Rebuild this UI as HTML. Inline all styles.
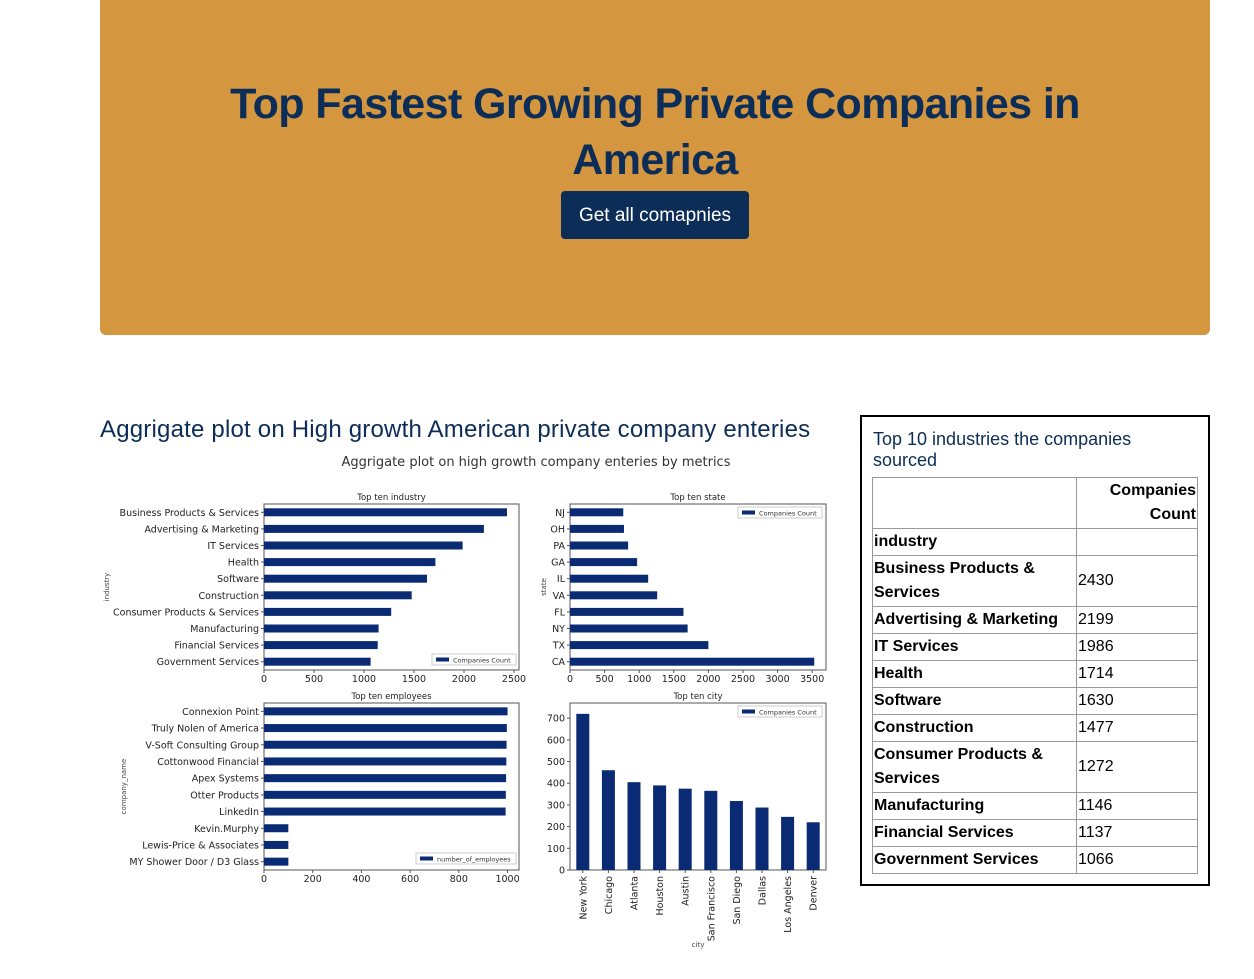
<!DOCTYPE html>
<html><head><meta charset="utf-8"><style>
body{margin:0;width:1254px;height:979px;background:#fff;font-family:"Liberation Sans",sans-serif;position:relative;overflow:hidden}
.banner{position:absolute;left:100px;top:0;width:1110px;height:335px;background:#d4963f;border-radius:0 0 6px 6px}
h1{position:absolute;left:0;width:100%;top:76px;margin:0;text-align:center;color:#0b2d57;font-size:43px;line-height:56px;font-weight:bold;letter-spacing:-0.6px}
.btn{position:absolute;left:461px;top:191px;width:188px;height:48px;background:#0b2d57;color:#fff;border-radius:4px;font-size:19px;line-height:50px;text-align:center}
h2{position:absolute;left:100px;top:416px;margin:0;font-size:24px;font-weight:normal;color:#0b2d57;letter-spacing:0.2px}
.box{position:absolute;left:860px;top:415px;width:346px;height:467px;border:2px solid #000}
.box .cap{position:absolute;left:11px;top:12px;color:#0b2d57;font-size:18px;line-height:21px}
table{position:absolute;left:10px;top:60px;width:326px;border-collapse:collapse;font-size:16px}
td{border:1px solid #999;padding:0 1px;line-height:24px;height:26px}
td.k{font-weight:bold;width:201px}
svg{position:absolute;left:0;top:0}
</style></head><body>
<div class="banner">
<h1>Top Fastest Growing Private Companies in<br>America</h1>
<div class="btn">Get all comapnies</div>
</div>
<h2>Aggrigate plot on High growth American private company enteries</h2>
<div class="box">
<div class="cap">Top 10 industries the companies<br>sourced</div>
<table>
<tr><td class="k" style="height:50px"></td><td style="text-align:right;font-weight:bold;line-height:24px">Companies<br>Count</td></tr>
<tr><td class="k">industry</td><td></td></tr>
<tr><td class="k" style="height:50px">Business Products &amp;<br>Services</td><td>2430</td></tr>
<tr><td class="k">Advertising &amp; Marketing</td><td>2199</td></tr>
<tr><td class="k">IT Services</td><td>1986</td></tr>
<tr><td class="k">Health</td><td>1714</td></tr>
<tr><td class="k">Software</td><td>1630</td></tr>
<tr><td class="k">Construction</td><td>1477</td></tr>
<tr><td class="k" style="height:50px">Consumer Products &amp;<br>Services</td><td>1272</td></tr>
<tr><td class="k">Manufacturing</td><td>1146</td></tr>
<tr><td class="k">Financial Services</td><td>1137</td></tr>
<tr><td class="k">Government Services</td><td>1066</td></tr>
</table></div>
<svg id="chart" width="1254" height="979" font-family="DejaVu Sans, sans-serif"></svg>
<script>
const industries=["Business Products & Services","Advertising & Marketing","IT Services","Health","Software","Construction","Consumer Products & Services","Manufacturing","Financial Services","Government Services"];
const industryCounts=[2430,2199,1986,1714,1630,1477,1272,1146,1137,1066];
const industryTicks=[0,500,1000,1500,2000,2500];
const states=["NJ","OH","PA","GA","IL","VA","FL","NY","TX","CA"];
const stateCounts=[770,780,840,970,1130,1260,1640,1700,2000,3530];
const stateTicks=[0,500,1000,1500,2000,2500,3000,3500];
const companies=["Connexion Point","Truly Nolen of America","V-Soft Consulting Group","Cottonwood Financial","Apex Systems","Otter Products","LinkedIn","Kevin.Murphy","Lewis-Price & Associates","MY Shower Door / D3 Glass"];
const employees=[1000,997,996,995,994,993,992,100,100,100];
const employeeTicks=[0,200,400,600,800,1000];
const cities=["New York","Chicago","Atlanta","Houston","Austin","San Francisco","San Diego","Dallas","Los Angeles","Denver"];
const cityCounts=[720,460,405,390,375,365,318,288,245,220];
const cityTicks=[0,100,200,300,400,500,600,700];
const NS="http://www.w3.org/2000/svg",svg=document.getElementById('chart');
function mk(t,a,txt){const e=document.createElementNS(NS,t);for(const k in a)e.setAttribute(k,a[k]);if(txt!=null)e.textContent=txt;svg.appendChild(e);return e;}
const C="#0a2a73";
let e=mk('text',{x:536,y:466,'text-anchor':'middle','font-size':13,fill:'#333'},'Aggrigate plot on high growth company enteries by metrics');

function frame(x0,y0,x1,y1,title,name){
 let r=mk('rect',{x:x0,y:y0,width:x1-x0,height:y1-y0,fill:'none',stroke:'#555','stroke-width':1});
 
 let t=mk('text',{x:(x0+x1)/2,y:y0-4,'text-anchor':'middle','font-size':8.5,fill:'#222'},title);
 
}
function legend(x,y,w,label,name){
 let r=mk('rect',{x:x,y:y,width:w,height:11,fill:'#fff',stroke:'#ccc'});
 
 mk('rect',{x:x+4,y:y+3.5,width:13,height:4,fill:C});
 mk('text',{x:x+21,y:y+8.5,'font-size':6.5,fill:'#333'},label);
}
function hbar(cfg){
 const {x0,x1,y0,y1,max,cats,vals,ticks,title,name,ylab}=cfg;
 frame(x0,y0,x1,y1,title,name);
 const sx=v=>x0+v/max*(x1-x0);
 const step=(y1-y0)/cats.length;
 cats.forEach((c,i)=>{
  const cy=y0+step*(i+0.5);
  let b=mk('rect',{x:x0,y:cy-4,width:sx(vals[i])-x0,height:8,fill:C});
  
  mk('line',{x1:x0-3,x2:x0,y1:cy,y2:cy,stroke:'#555'});
  let t=mk('text',{x:x0-5,y:cy+3.5,'text-anchor':'end','font-size':9.5,fill:'#222'},c);
  
 });
 ticks.forEach(v=>{const x=sx(v);mk('line',{x1:x,x2:x,y1:y1,y2:y1+3,stroke:'#555'});
  let t=mk('text',{x:x,y:y1+12,'text-anchor':'middle','font-size':9.5,fill:'#222'},v);
  });
 let yl=mk('text',{x:0,y:0,'font-size':7,fill:'#444','text-anchor':'middle',transform:`translate(${cfg.ylx},${(y0+y1)/2}) rotate(-90)`},ylab);
 
}
hbar({x0:264,x1:519,y0:504,y1:670,max:2550,cats:industries,vals:industryCounts,ticks:industryTicks,title:'Top ten industry',name:'industry',ylab:'industry',ylx:109});
legend(432,654,84,'Companies Count','industry');
hbar({x0:570,x1:826,y0:504,y1:670,max:3700,cats:states,vals:stateCounts,ticks:stateTicks,title:'Top ten state',name:'state',ylab:'state',ylx:546});
legend(738,507,84,'Companies Count','state');
hbar({x0:264,x1:519,y0:703,y1:870,max:1047,cats:companies,vals:employees,ticks:employeeTicks,title:'Top ten employees',name:'employees',ylab:'company_name',ylx:126});
legend(416,853,100,'number_of_employees','employees');
(function(){
 const x0=570,x1=826,y0=703,y1=870,max=770;
 frame(x0,y0,x1,y1,'Top ten city','city');
 const sy=v=>y1-v/max*(y1-y0);
 const step=(x1-x0)/cities.length;
 cities.forEach((c,i)=>{
  const cx=x0+step*(i+0.5);
  let b=mk('rect',{x:cx-6.5,y:sy(cityCounts[i]),width:13,height:y1-sy(cityCounts[i]),fill:C});
  
  mk('line',{x1:cx,x2:cx,y1:y1,y2:y1+3,stroke:'#555'});
  let t=mk('text',{x:0,y:0,'font-size':9.5,fill:'#222','text-anchor':'end',transform:`translate(${cx+3.5},${y1+6}) rotate(-90)`},c);
  
 });
 cityTicks.forEach(v=>{const y=sy(v);mk('line',{x1:x0-3,x2:x0,y1:y,y2:y,stroke:'#555'});
  let t=mk('text',{x:x0-5,y:y+3.5,'text-anchor':'end','font-size':9.5,fill:'#222'},v);
  });
 let xl=mk('text',{x:698,y:947,'text-anchor':'middle','font-size':7,fill:'#444'},'city');
 
 legend(738,706,84,'Companies Count','city');
})();
</script>
</body></html>
